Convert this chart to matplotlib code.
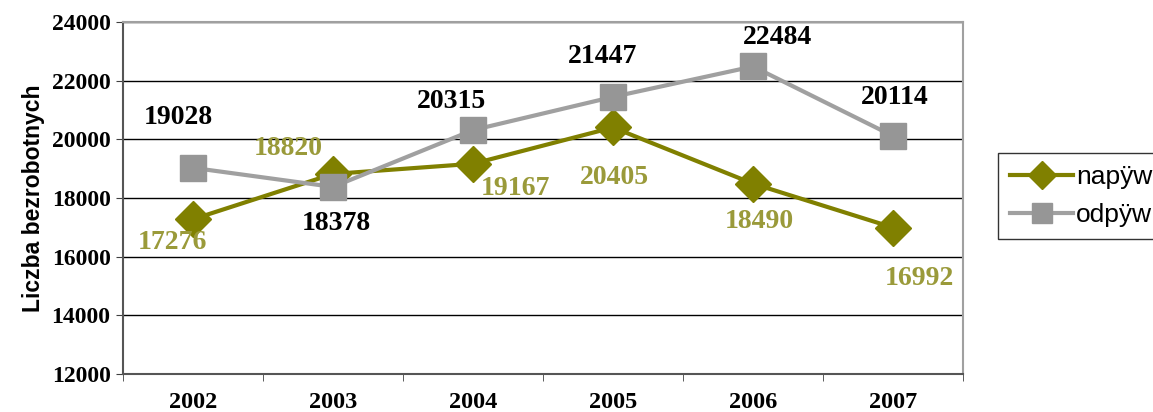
import matplotlib
matplotlib.use('Agg')
import matplotlib.pyplot as plt
import numpy as np

# dane
lata = ['2002', '2003', '2004', '2005', '2006', '2007']
naplyw = [17276, 18820, 19167, 20405, 18490, 16992]
odplyw = [19028, 18378, 20315, 21447, 22484, 20114]
etykiety_serii = ['napÿw', 'odpÿw']
y_ticks = [12000, 14000, 16000, 18000, 20000, 22000, 24000]

# przesunięcia etykiet (piksele)
off_nap = [(-21, -23), (-45, 25), (42, -25), (1, -50), (6, -38), (26, -51)]
off_odp = [(-15, 50), (3, -37), (-22, 29), (-10, 40), (24, 29), (2, 38)]

kolor_nap = '#808000'
kolor_nap_txt = '#9a9a3a'
kolor_odp = '#969696'

fig = plt.figure(figsize=(11.53, 4.12), dpi=100)
ax = fig.add_axes([123 / 1153, 1 - 374 / 412, 840 / 1153, 352 / 412])

x = np.arange(len(lata))
l1, = ax.plot(x, naplyw, color=kolor_nap, lw=3, marker='D', ms=18,
              label=etykiety_serii[0], zorder=3)
l2, = ax.plot(x, odplyw, color='#a0a0a0', lw=3, marker='s', ms=19,
              markerfacecolor=kolor_odp, markeredgecolor=kolor_odp,
              label=etykiety_serii[1], zorder=4)

for i, v in enumerate(naplyw):
    ax.annotate(str(v), (x[i], v), xytext=off_nap[i], textcoords='offset pixels',
                ha='center', va='center', fontsize=20, fontweight='bold',
                family='Liberation Serif', color=kolor_nap_txt, zorder=5)
for i, v in enumerate(odplyw):
    ax.annotate(str(v), (x[i], v), xytext=off_odp[i], textcoords='offset pixels',
                ha='center', va='center', fontsize=20, fontweight='bold',
                family='Liberation Serif', color='black', zorder=5)

ax.set_xlim(-0.5, len(lata) - 0.5)
ax.set_ylim(12000, 24000)
ax.set_yticks(y_ticks)
ax.set_yticklabels([str(t) for t in y_ticks], fontsize=17, fontweight='bold',
                   family='Liberation Serif')
ax.set_xticks(x)
ax.set_xticklabels(lata, fontsize=17.5, fontweight='bold', family='Liberation Serif')
ax.set_xticks(np.arange(-0.5, len(lata)), minor=True)
ax.tick_params(axis='x', which='major', length=0, pad=13)
ax.tick_params(axis='x', which='minor', length=5, direction='out', color='#404040')
ax.tick_params(axis='y', length=5, direction='out', color='#404040', pad=4)

ax.grid(axis='y', color='black', lw=1)
ax.set_axisbelow(True)
for s in ['left', 'bottom']:
    ax.spines[s].set_color('#555555')
    ax.spines[s].set_linewidth(1.5)
for s in ['top', 'right']:
    ax.spines[s].set_color('#a0a0a0')
    ax.spines[s].set_linewidth(1.5)

ax.set_ylabel('Liczba bezrobotnych', fontsize=16.5, fontweight='bold',
              family='Liberation Sans', labelpad=5)

leg = fig.legend(handles=[l1, l2], loc='upper left',
                 bbox_to_anchor=(998 / 1153, 1 - 153 / 412),
                 prop={'family': 'Liberation Sans', 'size': 19},
                 frameon=True, fancybox=False, edgecolor='black',
                 handlelength=2.4, borderpad=0.45, labelspacing=0.55,
                 handletextpad=0.1, borderaxespad=0)
leg.get_frame().set_linewidth(1)
for h in leg.legend_handles:
    h.set_markersize(14)

fig.savefig('out.png', dpi=100)
